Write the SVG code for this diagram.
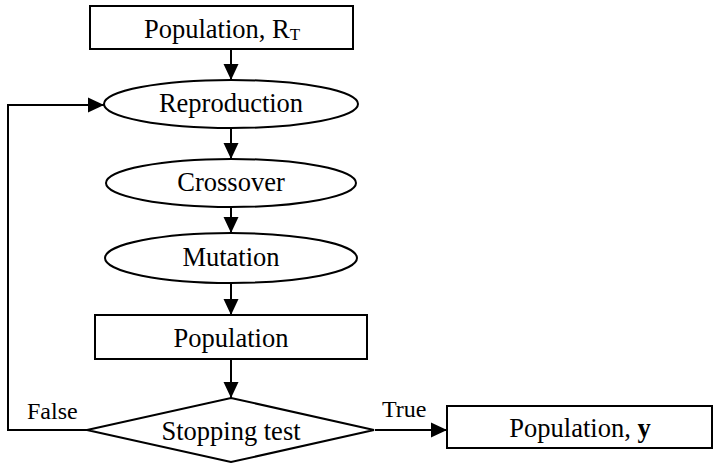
<svg xmlns="http://www.w3.org/2000/svg" width="713" height="463" viewBox="0 0 713 463">
<style>
.s{fill:#fff;stroke:#000;stroke-width:2}
.t{font-family:"Liberation Serif","Times New Roman",serif;font-size:26.5px;fill:#000;text-anchor:middle}
.l{font-family:"Liberation Serif","Times New Roman",serif;font-size:24px;fill:#000}
.c{fill:none;stroke:#000;stroke-width:2}
</style>
<defs>
<marker id="a" viewBox="0 0 16 16" refX="16" refY="8" markerWidth="16" markerHeight="16" markerUnits="userSpaceOnUse" orient="auto">
<path d="M0,0.5 L16,8 L0,15.5 Z" fill="#000"/>
</marker>
</defs>
<rect width="713" height="463" fill="#fff"/>
<g id="connectors">
<line class="c" x1="231" y1="49" x2="231" y2="80" marker-end="url(#a)"/>
<line class="c" x1="231" y1="128" x2="231" y2="159" marker-end="url(#a)"/>
<line class="c" x1="231" y1="207" x2="231" y2="233" marker-end="url(#a)"/>
<line class="c" x1="231" y1="283" x2="231" y2="315" marker-end="url(#a)"/>
<line class="c" x1="231" y1="359" x2="231" y2="398" marker-end="url(#a)"/>
<polyline class="c" points="87,430 8,430 8,105 104,105" marker-end="url(#a)"/>
<line class="c" x1="375" y1="430" x2="447" y2="430" marker-end="url(#a)"/>
<text class="l" x="27" y="419">False</text>
<text class="l" x="382" y="417">True</text>
</g>
<g id="n1">
<rect class="s" x="90" y="6" width="263" height="43"/>
<text class="t" x="222" y="38">Population, R<tspan font-size="17" dy="2">T</tspan></text>
</g>
<g id="n2">
<ellipse class="s" cx="231" cy="104" rx="127" ry="24"/>
<text class="t" x="231" y="112">Reproduction</text>
</g>
<g id="n3">
<ellipse class="s" cx="231" cy="183" rx="125" ry="24"/>
<text class="t" x="231" y="191">Crossover</text>
</g>
<g id="n4">
<ellipse class="s" cx="231" cy="258" rx="126" ry="25"/>
<text class="t" x="231" y="266">Mutation</text>
</g>
<g id="n5">
<rect class="s" x="95" y="315" width="272" height="44"/>
<text class="t" x="231" y="347">Population</text>
</g>
<g id="n6">
<polygon class="s" points="231,398 374,430 231,462 87,430"/>
<text class="t" x="231" y="440">Stopping test</text>
</g>
<g id="n7">
<rect class="s" x="447" y="406" width="265" height="42"/>
<text class="t" x="580" y="437">Population, <tspan font-weight="bold">y</tspan></text>
</g>
</svg>
